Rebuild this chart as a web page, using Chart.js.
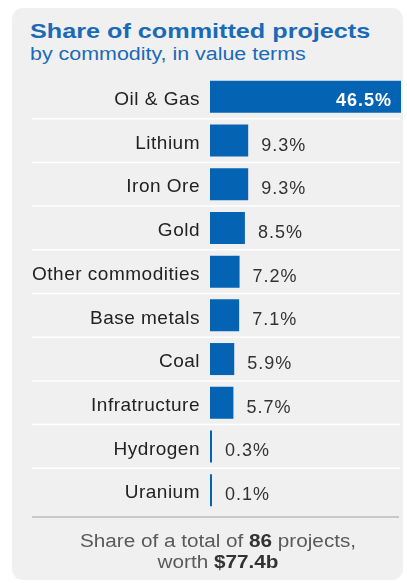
<!DOCTYPE html>
<html>
<head>
<meta charset="utf-8">
<script src="https://cdn.jsdelivr.net/npm/chart.js@4.4.1/dist/chart.umd.min.js"></script>
<style>
  html, body { margin: 0; padding: 0; background: #ffffff; }
  body { width: 407px; height: 583px; position: relative; overflow: hidden; font-family: "Liberation Sans", Arial, sans-serif; }
  .panel { position: absolute; left: 12px; top: 8px; width: 391px; height: 572px; background: #f0f0f0; border-radius: 11px; }
  #chart { position: absolute; left: 0; top: 0; }
  .title { position: absolute; left: 30px; top: 20px; font-size: 21px; line-height: 21px; font-weight: bold; color: #1a6ab7; white-space: nowrap; transform: scaleX(1.2); transform-origin: left center; }
  .subtitle { position: absolute; left: 30px; top: 45px; font-size: 18px; line-height: 18px; color: #1a6ab7; white-space: nowrap; transform: scaleX(1.19); transform-origin: left center; }
  .rule { position: absolute; left: 32px; top: 516px; width: 367px; height: 1.5px; background: #c8c8c8; }
  .note { position: absolute; left: 0; top: 531px; width: 436px; text-align: center; font-size: 18px; line-height: 21px; color: #5a5a5a; transform: scaleX(1.15); transform-origin: center center; }
  .note b { color: #333333; }
</style>
</head>
<body>
<div class="panel"></div>
<div class="title">Share of committed projects</div>
<div class="subtitle">by commodity, in value terms</div>
<canvas id="chart" width="407" height="583"></canvas>
<div class="rule"></div>
<div class="note">Share of a total of <b>86</b> projects,<br>worth <b>$77.4b</b></div>
<script>
// Commodity shares of committed project value (%)
const commodities = ["Oil & Gas", "Lithium", "Iron Ore", "Gold", "Other commodities",
                     "Base metals", "Coal", "Infratructure", "Hydrogen", "Uranium"];
const shares = [46.5, 9.3, 9.3, 8.5, 7.2, 7.1, 5.9, 5.7, 0.3, 0.1];
const shareLabels = ["46.5%", "9.3%", "9.3%", "8.5%", "7.2%", "7.1%", "5.9%", "5.7%", "0.3%", "0.1%"];

const BAR_BLUE = "#0563b4";
const FONT = "'Liberation Sans', Arial, sans-serif";

// Slightly wider glyph spacing for the canvas text
const spacing = {
  id: "spacing",
  beforeDraw(chart) { chart.ctx.letterSpacing = "0.5px"; }
};

// White separators between the category rows
const rowLines = {
  id: "rowLines",
  beforeDatasetsDraw(chart) {
    const y = chart.scales.y, ctx = chart.ctx;
    ctx.save();
    ctx.strokeStyle = "#ffffff";
    ctx.lineWidth = 1.5;
    for (let i = 0; i < commodities.length - 1; i++) {
      const py = (y.getPixelForValue(i) + y.getPixelForValue(i + 1)) / 2;
      ctx.beginPath();
      ctx.moveTo(32, py);
      ctx.lineTo(400, py);
      ctx.stroke();
    }
    ctx.restore();
  }
};

// Percentage labels: inside the long bar, beside the others
const valueLabels = {
  id: "valueLabels",
  afterDatasetsDraw(chart) {
    const ctx = chart.ctx;
    const meta = chart.getDatasetMeta(0);
    ctx.save();
    meta.data.forEach((bar, i) => {
      const inside = (bar.x - bar.base) > 80;
      ctx.textBaseline = "alphabetic";
      ctx.letterSpacing = "1px";
      if (inside) {
        ctx.font = "bold 18px " + FONT;
        ctx.fillStyle = "#ffffff";
        ctx.textAlign = "right";
        ctx.fillText(shareLabels[i], bar.x - 9, bar.y + 9);
      } else {
        ctx.font = "18px " + FONT;
        ctx.fillStyle = "#333333";
        ctx.textAlign = "left";
        ctx.fillText(shareLabels[i], bar.x + 13, bar.y + 10);
      }
    });
    ctx.restore();
  }
};

new Chart(document.getElementById("chart"), {
  type: "bar",
  data: {
    labels: commodities,
    datasets: [{
      data: shares,
      backgroundColor: BAR_BLUE,
      borderWidth: 0,
      barPercentage: 0.733,
      categoryPercentage: 1,
      minBarLength: 2
    }]
  },
  options: {
    indexAxis: "y",
    responsive: false,
    animation: false,
    devicePixelRatio: 1,
    layout: { padding: { top: 75, bottom: 71, right: 6, left: 0 } },
    plugins: { legend: { display: false }, tooltip: { enabled: false }, title: { display: false } },
    scales: {
      x: { display: false, min: 0, max: 46.5 },
      y: {
        grid: { display: false, drawTicks: false },
        border: { display: false },
        ticks: {
          color: "#222222",
          font: { family: FONT, size: 19 },
          padding: 10,
          labelOffset: 3,
          autoSkip: false
        },
        afterFit(scale) { scale.width = 210; }
      }
    }
  },
  plugins: [spacing, rowLines, valueLabels]
});
</script>
</body>
</html>
